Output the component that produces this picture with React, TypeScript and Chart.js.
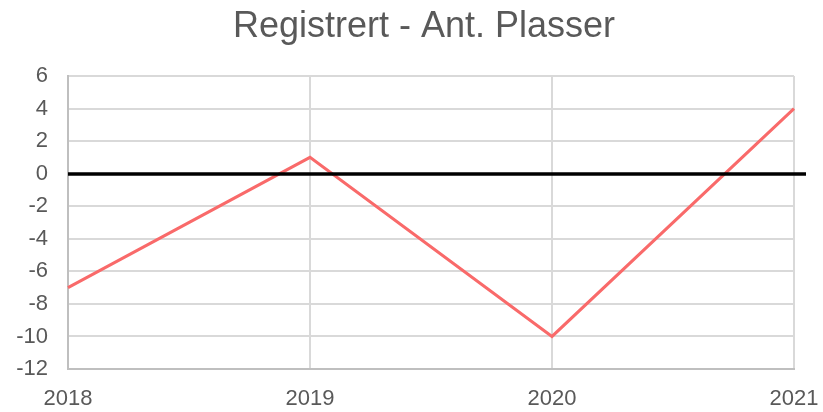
import React, { useEffect, useRef } from "react";
import { Chart, registerables } from "chart.js";

Chart.register(...registerables);

const TITLE = "Registrert - Ant. Plasser";
const years = ["2018", "2019", "2020", "2021"];
const values = [-7, 1, -10, 4];
const referenceValue = 0;
const yMin = -12;
const yMax = 6;
const yStep = 2;

const FONT = "'Liberation Sans', Arial, sans-serif";
const TEXT = "#595959";

export default function App() {
  const ref = useRef<HTMLCanvasElement | null>(null);

  useEffect(() => {
    document.body.style.margin = "0";
    const canvas = ref.current;
    if (!canvas) return;

    const titlePlugin = {
      id: "customTitle",
      afterDraw(chart: any) {
        const ctx = chart.ctx;
        ctx.save();
        ctx.font = `36px ${FONT}`;
        ctx.fillStyle = TEXT;
        ctx.textAlign = "center";
        ctx.textBaseline = "alphabetic";
        ctx.fillText(TITLE, 424, 37);
        ctx.restore();
      },
    };

    const zeroLinePlugin = {
      id: "zeroLine",
      afterDatasetsDraw(chart: any) {
        const { ctx, chartArea, scales } = chart;
        const y = Math.round(scales.y.getPixelForValue(referenceValue));
        ctx.save();
        ctx.strokeStyle = "#000000";
        ctx.lineWidth = 3.5;
        ctx.beginPath();
        ctx.moveTo(chartArea.left, y);
        ctx.lineTo(chartArea.right + 12, y);
        ctx.stroke();
        ctx.restore();
      },
    };

    const chart = new Chart(canvas, {
      type: "line",
      data: {
        labels: years,
        datasets: [
          {
            label: TITLE,
            data: values,
            borderColor: "#F96A6A",
            backgroundColor: "#F96A6A",
            borderWidth: 3,
            pointRadius: 0,
            tension: 0,
          },
        ],
      },
      options: {
        animation: false,
        responsive: false,
        devicePixelRatio: 1,
        layout: { padding: { top: 76, right: 29, left: 0, bottom: 0 } },
        plugins: {
          legend: { display: false },
          title: { display: false },
          tooltip: { enabled: false },
        },
        scales: {
          x: {
            offset: false,
            afterFit(scale: any) {
              scale.height = 43;
              scale.paddingRight = 0;
              scale.paddingLeft = 0;
            },
            grid: { color: "#D9D9D9", lineWidth: 2, drawTicks: false },
            border: { color: "#BFBFBF", width: 2 },
            ticks: {
              color: TEXT,
              font: { family: FONT, size: 22 },
              padding: 17,
              maxRotation: 0,
            },
          },
          y: {
            min: yMin,
            max: yMax,
            afterFit(scale: any) {
              scale.width = 68;
            },
            grid: { color: "#D9D9D9", lineWidth: 2, drawTicks: false },
            border: { color: "#BFBFBF", width: 2 },
            ticks: {
              stepSize: yStep,
              color: TEXT,
              font: { family: FONT, size: 22 },
              padding: 20,
            },
          },
        },
      },
      plugins: [titlePlugin, zeroLinePlugin],
    });

    return () => chart.destroy();
  }, []);

  return (
    <div style={{ width: 823, height: 412 }}>
      <canvas ref={ref} width={823} height={412} style={{ display: "block" }} />
    </div>
  );
}
